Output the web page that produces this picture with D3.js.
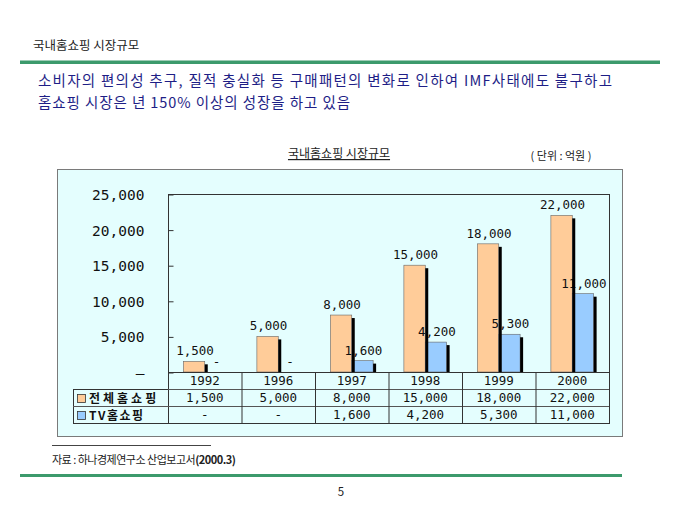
<!DOCTYPE html>
<html><head><meta charset="utf-8">
<script src="https://cdn.jsdelivr.net/npm/d3@7"></script>
<style>
html,body{margin:0;padding:0;background:#fff;}
svg{display:block;}
</style></head>
<body>
<svg id="c" width="680" height="510"></svg>
<script>
const years = ["1992","1996","1997","1998","1999","2000"];
const seriesNames = ["전체홈쇼핑","TV홈쇼핑"];
const totalValues = [1500,5000,8000,15000,18000,22000];
const tvValues = [null,null,1600,4200,5300,11000];
const yTicks = [0,5000,10000,15000,20000,25000];
const colors = ["#FFCC99","#99CCFF"];

const svg = d3.select("#c");
const KR = "'Noto Sans CJK KR','Noto Sans',sans-serif";
const MONO = "'DejaVu Sans Mono','Liberation Mono',monospace";
const fmt = v => (v === null || v === 0) ? "-" : d3.format(",")(v);

// header
svg.append("text").attr("x",33).attr("y",50).attr("font-family",KR).attr("font-size",12.5)
  .attr("fill","#222").text("국내홈쇼핑 시장규모");
svg.append("rect").attr("x",20).attr("y",60.5).attr("width",640).attr("height",3.5).attr("fill","#3C9A6C");

const sub = ["소비자의 편의성 추구, 질적 충실화 등 구매패턴의 변화로 인하여 IMF사태에도 불구하고",
             "홈쇼핑 시장은 년 150% 이상의 성장을 하고 있음"];
svg.append("text").attr("x",38).attr("y",86).attr("font-family",KR).attr("font-size",14.5)
  .attr("fill","#1E1E86").attr("textLength",574).attr("lengthAdjust","spacing").text(sub[0]);
svg.append("text").attr("x",38).attr("y",108).attr("font-family",KR).attr("font-size",14.5)
  .attr("fill","#1E1E86").attr("textLength",312).attr("lengthAdjust","spacing").text(sub[1]);

// chart title
svg.append("text").attr("x",339).attr("y",158).attr("text-anchor","middle").attr("font-family",KR)
  .attr("font-size",12).attr("fill","#222").attr("text-decoration","underline").text("국내홈쇼핑 시장규모");
svg.append("text").attr("x",561).attr("y",160).attr("text-anchor","middle").attr("font-family",KR)
  .attr("font-size",11).attr("fill","#222").text("( 단위 : 억원 )");

// frame
svg.append("rect").attr("x",57.5).attr("y",169.5).attr("width",565).attr("height",267)
  .attr("fill","#E4FEFE").attr("stroke","#7a7a7a").attr("stroke-width",1);

const L = 168, R = 609, T = 194, B = 372;
const x0 = d3.scaleBand().domain(years).range([L,R]).padding(0);
const x1 = d3.scaleBand().domain([0,1]).range([0,x0.bandwidth()]).paddingInner(0).paddingOuter(0.72);
const y = d3.scaleLinear().domain([0,25000]).range([B,T]);

svg.append("rect").attr("x",L+0.5).attr("y",T+0.5).attr("width",R-L).attr("height",B-T)
  .attr("fill","#E4FEFE").attr("stroke","#333").attr("stroke-width",1);

// y axis
const ax = svg.append("g").attr("transform",`translate(${L+0.5},0.5)`)
  .call(d3.axisLeft(y).tickValues(yTicks).tickSize(-5).tickPadding(24)
    .tickFormat(v => v===0 ? "–" : d3.format(",")(v)));
ax.select(".domain").remove();
ax.selectAll("line").attr("stroke","#333");
ax.selectAll("text").attr("font-family",MONO).attr("font-size",14.5).attr("fill","#111").attr("dy","0.35em");

const data = [totalValues, tvValues];
const g = svg.append("g");
// bars
data.forEach((vals,si)=>{
  years.forEach((yr,i)=>{
    const v = vals[i];
    if (v===null) return;
    g.append("rect").attr("x",x0(yr)+x1(si)).attr("y",y(v)).attr("width",x1.bandwidth()).attr("height",y(0)-y(v))
      .attr("fill",colors[si]).attr("stroke","#666").attr("stroke-width",0.6);
  });
});
// labels
data.forEach((vals,si)=>{
  years.forEach((yr,i)=>{
    const v = vals[i];
    const cx = x0(yr)+x1(si)+x1.bandwidth()/2 + 1;
    g.append("text").attr("x",cx).attr("y",y(v===null?0:v)-6).attr("text-anchor","middle")
      .attr("font-family",MONO).attr("font-size",12.5).attr("fill","#111").text(fmt(v));
  });
});
// shadows
data.forEach((vals,si)=>{
  years.forEach((yr,i)=>{
    const v = vals[i];
    if (v===null) return;
    g.append("rect").attr("x",x0(yr)+x1(si)+x1.bandwidth()).attr("y",y(v)+3).attr("width",3)
      .attr("height",Math.max(0,y(0)-y(v)-3)).attr("fill","#000");
  });
});

// table
const rowsY = [372,389,406,423];
const tb = svg.append("g");
// header row
tb.append("rect").attr("x",L+0.5).attr("y",rowsY[0]+0.5).attr("width",R-L).attr("height",rowsY[3]-rowsY[0])
  .attr("fill","none").attr("stroke","#333");
tb.append("rect").attr("x",73.5).attr("y",rowsY[1]+0.5).attr("width",R-73).attr("height",rowsY[3]-rowsY[1])
  .attr("fill","none").attr("stroke","#333");
tb.append("line").attr("x1",73).attr("x2",R).attr("y1",rowsY[2]+0.5).attr("y2",rowsY[2]+0.5).attr("stroke","#555");
tb.append("line").attr("x1",L).attr("x2",R).attr("y1",rowsY[1]+0.5).attr("y2",rowsY[1]+0.5).attr("stroke","#555");
years.forEach((yr,i)=>{
  if (i>0) tb.append("line").attr("x1",x0(yr)+0.5).attr("x2",x0(yr)+0.5).attr("y1",rowsY[0]).attr("y2",rowsY[3]).attr("stroke","#333");
  const cx = x0(yr)+x0.bandwidth()/2;
  tb.append("text").attr("x",cx).attr("y",rowsY[0]+13).attr("text-anchor","middle").attr("font-family",MONO)
    .attr("font-size",12.5).attr("fill","#111").text(yr);
  data.forEach((vals,si)=>{
    tb.append("text").attr("x",cx).attr("y",rowsY[si+1]+13).attr("text-anchor","middle").attr("font-family",MONO)
      .attr("font-size",12.5).attr("fill","#111").text(fmt(vals[i]));
  });
});
seriesNames.forEach((nm,si)=>{
  tb.append("rect").attr("x",77.5).attr("y",rowsY[si+1]+5.5).attr("width",8).attr("height",8)
    .attr("fill",colors[si]).attr("stroke","#333").attr("stroke-width",0.8);
  tb.append("text").attr("x",89).attr("y",rowsY[si+1]+13.5).attr("font-family",KR).attr("font-size",12)
    .attr("font-weight","bold").attr("fill","#111").attr("letter-spacing", si===0?"3px":"1.5px").text(nm);
});

// footer
svg.append("line").attr("x1",52).attr("x2",211).attr("y1",445.5).attr("y2",445.5).attr("stroke","#444");
const src = svg.append("text").attr("x",52).attr("y",464).attr("font-family",KR).attr("font-size",11).attr("fill","#222");
src.append("tspan").attr("letter-spacing","-0.5px").text("자료 : 하나경제연구소 산업보고서");
src.append("tspan").attr("font-weight","bold").attr("letter-spacing","-0.5px").text("(2000.3)");
svg.append("rect").attr("x",20).attr("y",474).attr("width",602).attr("height",3).attr("fill","#3C9A6C");
svg.append("text").attr("x",341).attr("y",496).attr("text-anchor","middle").attr("font-family",KR)
  .attr("font-size",11.5).attr("fill","#222").text("5");
</script>
</body></html>
